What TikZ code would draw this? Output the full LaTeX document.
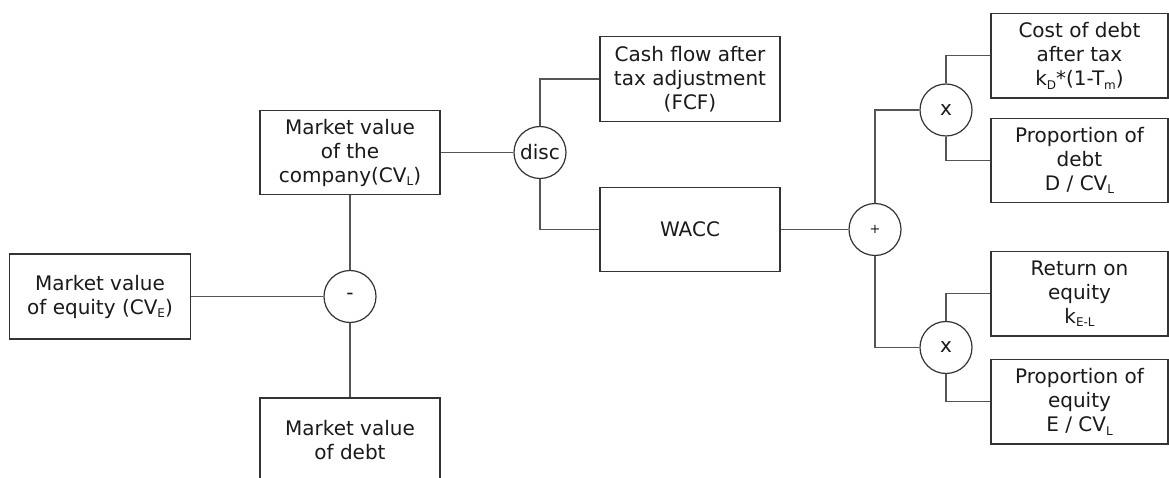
\documentclass[tikz,border=0pt]{standalone}
\usepackage{fontspec}
\setmainfont{DejaVu Sans}
\definecolor{boxline}{HTML}{333333}
\definecolor{wire}{HTML}{555555}
\definecolor{ink}{HTML}{1A1A1A}
\newcommand\lowsub[1]{\raisebox{-0.35ex}{\fontsize{12}{12}\selectfont #1}}
\begin{document}
\begin{tikzpicture}[x=1pt,y=-1pt,
  every node/.style={text=ink, font=\fontsize{20}{24}\selectfont},
  block/.style={draw=boxline, line width=1.2pt, rectangle, inner sep=0pt,
    minimum width=180pt, minimum height=84.5pt, align=center},
  sidebox/.style={block, minimum width=177pt},
  op/.style={draw=boxline, line width=1.2pt, circle, inner sep=0pt, minimum size=52pt},
  wire/.style={draw=wire, line width=1.2pt}
]
\clip (0,0) rectangle (1169,478);
\fill[white] (0,0) rectangle (1169,478);

% valuation side
\node[block] (company) at (350,152.5) {Market value\\of the\\company(CV\lowsub{L})};
\node[op] (disc) at (540,152.5) {disc};
\node[block] (fcf) at (690,79) {Cash flow after\\tax adjustment\\(FCF)};
\node[block] (wacc) at (690,229.5) {WACC};
\node[block, minimum width=181pt, minimum height=85pt] (equity) at (100,296.5) {Market value\\of equity (CV\lowsub{E})};
\node[op] (minus) at (350,296.5) {-};
\node[block, minimum height=85pt] (debt) at (350,440.5) {Market value\\of debt};

% cost of capital side
\node[op, font=\fontsize{13}{13}\selectfont] (plus) at (875,229.5) {+};
\node[op] (mulD) at (946,110) {x};
\node[op] (mulE) at (946,347.5) {x};
\node[sidebox] (costD) at (1079.5,55.7) {Cost of debt\\after tax\\k\lowsub{D}*(1-T\lowsub{m})};
\node[sidebox] (propD) at (1079.5,160.4) {Proportion of\\debt\\D / CV\lowsub{L}};
\node[sidebox] (retE) at (1079.5,293.7) {Return on\\equity\\k\lowsub{E-L}};
\node[sidebox] (propE) at (1079.5,401.7) {Proportion of\\equity\\E / CV\lowsub{L}};

% connectors
\draw[wire] (company.east) -- (disc.west);
\draw[wire] (disc.north) |- (fcf.west);
\draw[wire] (disc.south) |- (wacc.west);
\draw[wire] (company.south) -- (minus.north);
\draw[wire] (equity.east) -- (minus.west);
\draw[wire] (minus.south) -- (debt.north);
\draw[wire] (wacc.east) -- (plus.west);
\draw[wire] (plus.north) |- (mulD.west);
\draw[wire] (plus.south) |- (mulE.west);
\draw[wire] (mulD.north) |- (costD.west);
\draw[wire] (mulD.south) |- (propD.west);
\draw[wire] (mulE.north) |- (retE.west);
\draw[wire] (mulE.south) |- (propE.west);
\end{tikzpicture}
\end{document}
